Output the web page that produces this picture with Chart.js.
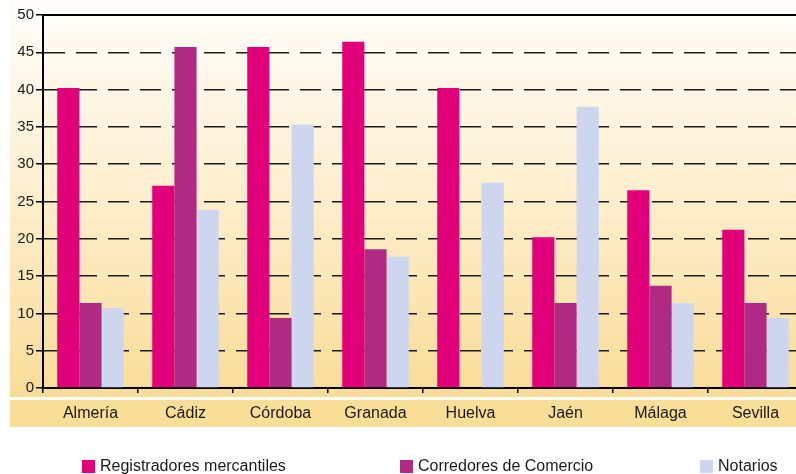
<!DOCTYPE html>
<html>
<head>
<meta charset="utf-8">
<script src="https://cdn.jsdelivr.net/npm/chart.js@4"></script>
<style>
html,body{margin:0;padding:0;overflow:hidden;background:#fff;width:796px;height:474px;}
#wrap{width:803px;height:474px;}
</style>
</head>
<body>
<div id="wrap"><canvas id="c" width="803" height="474"></canvas></div>
<script>
const categories = ["Almería","Cádiz","Córdoba","Granada","Huelva","Jaén","Málaga","Sevilla"];
const registradores = [40.2, 27.1, 45.7, 46.4, 40.2, 20.2, 26.5, 21.2];
const corredores = [11.4, 45.7, 9.4, 18.6, 0, 11.4, 13.7, 11.4];
const notarios = [10.7, 23.9, 35.3, 17.6, 27.5, 37.7, 11.4, 9.4];
const seriesLabels = ["Registradores mercantiles","Corredores de Comercio","Notarios"];
const seriesColors = ["#e2007a","#b02a84","#cdd6ee"];
const yTicks = [0,5,10,15,20,25,30,35,40,45,50];

const FONT = "'Liberation Sans', Arial, sans-serif";

const bgPlugin = {
  id: 'bg',
  beforeDraw(chart){
    const ctx = chart.ctx, W = chart.width, H = chart.height;
    ctx.save();
    ctx.fillStyle = '#ffffff';
    ctx.fillRect(0,0,W,H);
    const g = ctx.createLinearGradient(0,0,0,397);
    g.addColorStop(0,'#fffefb');
    g.addColorStop(0.35,'#fef3dc');
    g.addColorStop(1,'#f9dc98');
    ctx.fillStyle = g;
    ctx.fillRect(10,0,W-10,397);
    ctx.fillStyle = '#f9de98';
    ctx.fillRect(10,400,W-10,27);
    ctx.restore();
  },
  afterDatasetsDraw(chart){
    const ctx = chart.ctx;
    const y = chart.scales.y, ca = chart.chartArea;
    ctx.save();
    ctx.strokeStyle = '#000';
    ctx.lineWidth = 2;
    const yt = Math.round(y.getPixelForValue(50));
    ctx.beginPath(); ctx.moveTo(ca.left, yt); ctx.lineTo(ca.right, yt); ctx.stroke();
    ctx.restore();
  },
  afterDraw(chart){
    const ctx = chart.ctx;
    const xs = [82, 400, 700];
    ctx.save();
    ctx.font = '16px ' + FONT;
    ctx.textBaseline = 'middle';
    ctx.textAlign = 'left';
    chart.data.datasets.forEach((ds,i)=>{
      ctx.fillStyle = ds.backgroundColor;
      ctx.fillRect(xs[i], 460, 13, 13);
      ctx.fillStyle = '#1a1a1a';
      ctx.fillText(ds.label, xs[i]+18, 467);
    });
    ctx.restore();
  }
};

new Chart(document.getElementById('c'), {
  type: 'bar',
  data: {
    labels: categories,
    datasets: [
      {label: seriesLabels[0], data: registradores, backgroundColor: seriesColors[0]},
      {label: seriesLabels[1], data: corredores, backgroundColor: seriesColors[1]},
      {label: seriesLabels[2], data: notarios, backgroundColor: seriesColors[2]}
    ]
  },
  options: {
    responsive: false,
    animation: false,
    layout: {padding: {top: 15, left: 0, right: 0, bottom: 0}},
    datasets: {bar: {categoryPercentage: 0.7, barPercentage: 1.0, borderWidth: 0}},
    plugins: {legend: {display: false}, tooltip: {enabled: false}},
    scales: {
      x: {
        grid: {drawOnChartArea: false, drawTicks: true, tickLength: 5, color: '#000', lineWidth: 1.5, offset: true},
        border: {display: true, color: '#000', width: 2},
        ticks: {font: {family: FONT, size: 16}, color: '#1a1a1a', padding: 11, maxRotation: 0},
        afterFit(s){ s.height = 86; }
      },
      y: {
        min: 0, max: 50,
        afterBuildTicks(s){ s.ticks = yTicks.map(v=>({value: v})); },
        grid: {color: '#1a1a1a', lineWidth: 1.5, drawTicks: true, tickLength: 7, tickColor: '#000', tickWidth: 1.5},
        border: {display: true, color: '#000', width: 2, dash: [21, 11]},
        ticks: {font: {family: FONT, size: 15}, color: '#1a1a1a', padding: 2},
        afterFit(s){ s.width = 43; }
      }
    }
  },
  plugins: [bgPlugin]
});
</script>
</body>
</html>
